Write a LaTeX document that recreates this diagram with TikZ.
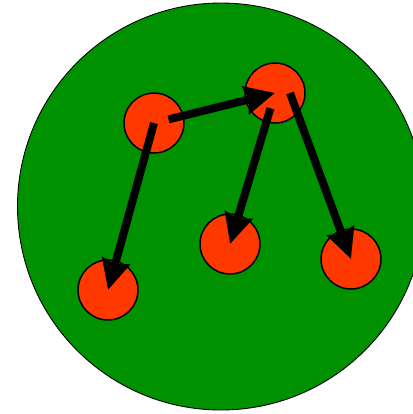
\documentclass[tikz,border=0pt]{standalone}
\usepackage{xcolor}
\usepackage{tikz}
\usetikzlibrary{arrows.meta}

\definecolor{blobgreen}{RGB}{0,145,0}
\definecolor{dotred}{RGB}{255,56,0}

\begin{document}
\begin{tikzpicture}[
        x=0.02cm, y=-0.02cm,
        dot/.style={
            circle,
            draw,
            line width=0.85pt,
            fill=dotred,
            minimum size=1.2cm,
            inner sep=0pt
        },
        arrow/.style={
            -{Stealth[length=0.6cm, width=0.56cm, inset=0.06cm]},
            line width=0.16cm
        }
    ]

    \useasboundingbox (0,0) rectangle (413,414);
    \clip (0,0) rectangle (413,414);

    % background blob
    \fill[blobgreen, draw=black, line width=0.5pt] (221,206.5) circle[radius=203.5];

    \node[dot] (root) at (154,123) {};
    \node[dot] (hub) at (275,93) {};
    \node[dot] (leafl) at (108,290) {};
    \node[dot] (leafm) at (230,244) {};
    \node[dot] (leafr) at (351,259) {};

    \draw[arrow, shorten <=0.3cm] (root.center) -- (hub.center);
    \draw[arrow] (root.center) -- (leafl.center);
    \draw[arrow, shorten <=0.32cm] (hub.center) -- (leafm.center);
    \draw[arrow] ([xshift=0.3cm]hub.center) -- (leafr.center);

\end{tikzpicture}
\end{document}
